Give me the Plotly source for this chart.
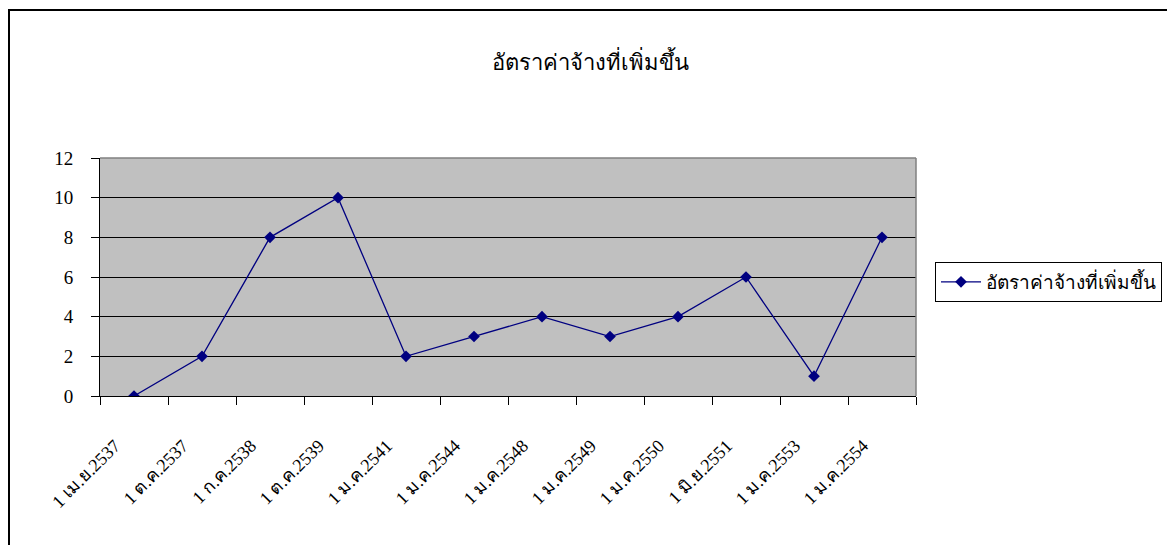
import plotly.graph_objects as go

categories = ["1 เม.ย.2537", "1 ต.ค.2537", "1 ก.ค.2538", "1 ต.ค.2539", "1 ม.ค.2541",
              "1 ม.ค.2544", "1 ม.ค.2548", "1 ม.ค.2549", "1 ม.ค.2550", "1 มิ.ย.2551",
              "1 ม.ค.2553", "1 ม.ค.2554"]
values = [0, 2, 8, 10, 2, 3, 4, 3, 4, 6, 1, 8]
series_name = "อัตราค่าจ้างที่เพิ่มขึ้น"
title_text = "อัตราค่าจ้างที่เพิ่มขึ้น"
y_ticks = [0, 2, 4, 6, 8, 10, 12]

FONT = "Times New Roman, Liberation Serif, serif"

OFF = 8  # page body margin
W, H = 1175 - 2 * OFF, 553 - 2 * OFF
# plot area in page pixels
L, R, T, B = 100 - OFF, 916 - OFF, 158 - OFF, 396 - OFF


def px2x(px):
    return (px - OFF - L) / (R - L)


def py2y(py):
    return (B - (py - OFF)) / (B - T)


fig = go.Figure()
fig.add_trace(go.Scatter(
    x=categories, y=values, mode="lines+markers", name=series_name,
    line=dict(color="#000080", width=1.3),
    marker=dict(symbol="diamond", size=9, color="#000080"),
))

fig.update_layout(
    width=W, height=H,
    margin=dict(l=L, r=W - R, t=T, b=H - B, pad=0, autoexpand=False),
    paper_bgcolor="white", plot_bgcolor="#c0c0c0",
    font=dict(family=FONT, color="black", size=18),
    title=dict(text=title_text, x=(590 - OFF) / W, xanchor="center",
               y=1 - (62 - OFF) / H, yanchor="middle",
               font=dict(family=FONT, size=22, color="black")),
    showlegend=True,
    legend=dict(x=px2x(935), y=py2y(262), xanchor="left", yanchor="top",
                bordercolor="black", borderwidth=1, bgcolor="white",
                itemwidth=40,
                font=dict(family=FONT, size=19, color="black")),
    xaxis=dict(type="category", range=[-0.5, 11.5], tickson="boundaries",
               tickvals=categories,
               ticktext=[c + "\u00a0" * 6 for c in categories],
               ticks="outside", ticklen=8, tickcolor="black", tickwidth=1,
               showline=True, linecolor="black", linewidth=1, showgrid=False,
               tickangle=-45, tickfont=dict(family=FONT, size=18, color="black"),
               ticklabelstandoff=12, fixedrange=True),
    yaxis=dict(range=[0, 12], tickvals=y_ticks, ticks="outside", ticklen=8,
               tickcolor="black", tickwidth=1, showline=True, linecolor="black",
               linewidth=1, showgrid=True, gridcolor="black", gridwidth=1,
               zeroline=False, tickfont=dict(family=FONT, size=19, color="black"),
               ticklabelstandoff=14, fixedrange=True),
    shapes=[
        dict(type="line", xref="paper", yref="paper", x0=0, x1=1, y0=1, y1=1,
             line=dict(color="#808080", width=1.5), layer="above"),
        dict(type="line", xref="paper", yref="paper", x0=1, x1=1, y0=0, y1=1,
             line=dict(color="#808080", width=1.5), layer="above"),
        dict(type="rect", xref="paper", yref="paper",
             x0=px2x(9), x1=px2x(1300), y0=py2y(10), y1=py2y(700),
             line=dict(color="black", width=2), fillcolor="rgba(0,0,0,0)", layer="below"),
    ],
)

fig.write_html("out.html")
